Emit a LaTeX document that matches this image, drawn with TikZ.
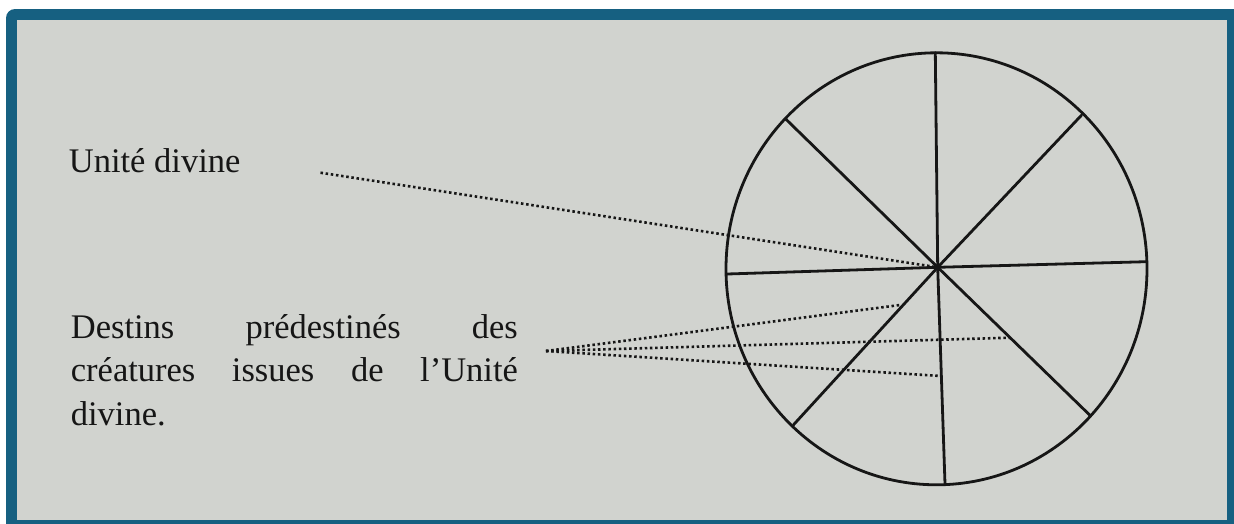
\documentclass[tikz,border=0pt]{standalone}
\usepackage{fontspec}
\setmainfont{Liberation Serif}
\definecolor{framebleu}{RGB}{22,96,129}
\definecolor{papier}{RGB}{209,211,207}
\definecolor{encre}{RGB}{22,22,22}
\begin{document}
\begin{tikzpicture}[x=1pt, y=-1pt, line width=2.8pt, line cap=round, line join=round,
  trait/.style={draw=encre, line width=2.8pt},
  pointille/.style={draw=encre, line width=2.6pt, line cap=butt, dash pattern=on 2.5pt off 2.7pt},
  etiquette/.style={anchor=base west, inner sep=0pt, text=encre, font=\fontsize{34.5}{43.3}\selectfont}]

  %% ==== cadre ====
  \fill[framebleu, rounded corners=9pt] (6,9) rectangle (1250,540);
  \fill[papier] (17,20) rectangle (1226.5,519.5);

  %% ==== cercle et rayons ====
  \coordinate (centre) at (937.7,267.3);
  \draw[trait] (936.5,268.8) ellipse [x radius=210.5, y radius=216];
  \draw[trait] (centre) -- (935.3,52.7);
  \draw[trait] (centre) -- (1081.7,115.0);
  \draw[trait] (centre) -- (1146.0,261.7);
  \draw[trait] (centre) -- (1090.7,416.0);
  \draw[trait] (centre) -- (945.0,484.0);
  \draw[trait] (centre) -- (793.3,425.0);
  \draw[trait] (centre) -- (727.3,274.0);
  \draw[trait] (centre) -- (786.0,119.3);

  %% ==== etiquettes ====
  \node[etiquette] (unite) at (67.5,172.7) {Unité divine};
  \node[etiquette, anchor=north west, text width=447pt, align=justify] (destins) at (69.5,313.2)
    {Destins prédestinés des\linebreak créatures issues de l’Unité\linebreak divine.};

  %% ==== pointilles ====
  \coordinate (u0) at (320.5,172.7);
  \coordinate (d0) at (546.0,351.0);
  \coordinate (d1) at (900.0,305.0);
  \coordinate (d2) at (1010.0,337.7);
  \coordinate (d3) at (940.7,376.0);
  \draw[pointille] (u0) -- (centre);
  \draw[pointille] (d0) -- (d1);
  \draw[pointille] (d0) -- (d2);
  \draw[pointille] (d0) -- (d3);

  % canevas fixe
  \pgfresetboundingbox
  \path[use as bounding box] (0,0) rectangle (1234,523);
\end{tikzpicture}
\end{document}
